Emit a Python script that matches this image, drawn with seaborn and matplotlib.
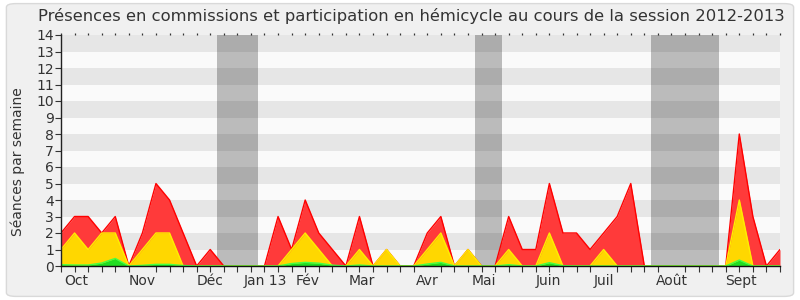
import numpy as np
import pandas as pd
import matplotlib
matplotlib.use("Agg")
import matplotlib.pyplot as plt
from matplotlib.patches import FancyBboxPatch
import seaborn as sns

# ---- data (weekly, session 2012-2013) ----
weeks = list(range(54))
hemicycle = [2, 3, 3, 2, 3, 0, 2, 5, 4, 2, 0, 1, 0, 0, 0, 0, 3, 1, 4, 2,
             1, 0, 3, 0, 1, 0, 0, 2, 3, 0, 1, 0, 0, 3, 1, 1, 5, 2, 2, 1,
             2, 3, 5, 0, 0, 0, 0, 0, 0, 0, 8, 3, 0, 1]
commission = [1, 2, 1, 2, 2, 0, 1, 2, 2, 0, 0, 0, 0, 0, 0, 0, 0, 1, 2, 1,
              0, 0, 1, 0, 1, 0, 0, 1, 2, 0, 1, 0, 0, 1, 0, 0, 2, 0, 0, 0,
              1, 0, 0, 0, 0, 0, 0, 0, 0, 0, 4, 0, 0, 0]
interventions = [0.08, 0.06, 0.06, 0.18, 0.46, 0, 0.04, 0.1, 0.1, 0.03, 0, 0, 0, 0, 0, 0, 0, 0.15, 0.22, 0.17,
                 0.05, 0, 0.06, 0, 0, 0, 0, 0.12, 0.22, 0, 0, 0, 0, 0.08, 0, 0, 0.2, 0.02, 0, 0,
                 0, 0, 0, 0, 0, 0, 0, 0, 0, 0, 0.36, 0, 0, 0]
month_labels = ["Oct", "Nov", "Déc", "Jan 13", "Fév", "Mar", "Avr", "Mai", "Juin", "Juil", "Août", "Sept"]
month_pos = [1.16, 6.0, 10.97, 15.1, 18.2, 22.2, 27.0, 31.2, 35.9, 40.0, 45.0, 50.1]
vacances = [(11.5, 14.5), (30.5, 32.5), (43.5, 48.5)]

df = pd.DataFrame({"semaine": weeks, "hemicycle": hemicycle,
                   "commission": commission, "interventions": interventions})

sns.set_theme(style="white")
plt.rcParams["font.family"] = ["DejaVu Sans"]

fig = plt.figure(figsize=(8, 3), dpi=100, facecolor="white")
bg = FancyBboxPatch((0.008, 0.012), 0.984, 0.976, boxstyle="round,pad=0,rounding_size=0.012",
                    transform=fig.transFigure, facecolor="#f0f0f0", edgecolor="#d9d9d9",
                    linewidth=1, zorder=-10)
fig.patches.append(bg)

ax = fig.add_axes([61 / 800, 34 / 300, 719 / 800, 231 / 300])
ax.set_facecolor("#fafafa")
for k in range(1, 14, 2):
    ax.axhspan(k, k + 1, color="#e6e6e6", lw=0, zorder=0)
for a, b in vacances:
    ax.axvspan(a, b, color="black", alpha=0.25, lw=0, zorder=1)

series = [("hemicycle", "#ff3a3a", "#ff0000"),
          ("commission", "#ffd700", "#ffee00"),
          ("interventions", "#22dd22", "#44ff44")]
for i, (col, fc, ec) in enumerate(series):
    ax.fill_between(df["semaine"], 0, df[col], color=fc, lw=0, zorder=2 + i)
    sns.lineplot(data=df, x="semaine", y=col, color=ec, lw=1.0, ax=ax, zorder=2.5 + i)

ax.set_xlim(0, 53)
ax.set_ylim(0, 14)
ax.set_yticks(range(0, 15))
ax.set_xticks(month_pos)
ax.set_xticklabels(month_labels)
ax.set_xticks(weeks, minor=True)
ax.tick_params(axis="x", which="major", length=0, pad=6, labelsize=10, colors="#333333")
ax.tick_params(axis="x", which="minor", bottom=True, top=False, length=4, width=0.8,
               color="#333333", direction="out")
ax.tick_params(axis="y", left=True, length=4, width=0.8, pad=1, labelsize=10,
               colors="#333333")
for lab in ax.get_xticklabels() + ax.get_yticklabels():
    lab.set_color("#333333")

top = ax.secondary_xaxis("top")
top.set_xticks(weeks)
top.set_xticklabels([])
top.tick_params(axis="x", length=1.8, width=0.9, color="#333333", direction="out")
top.spines["top"].set_visible(False)

ax.set_xlabel("")
ax.set_ylabel("")
for s in ["top", "right"]:
    ax.spines[s].set_visible(False)
ax.spines["left"].set_color("#222222")
ax.spines["bottom"].set_color("#111111")
ax.spines["left"].set_linewidth(1)
ax.spines["bottom"].set_linewidth(1)
ax.spines["bottom"].set_zorder(10)
ax.spines["left"].set_zorder(10)
ax.grid(False)

fig.text(0.514, 0.948, "Présences en commissions et participation en hémicycle au cours de la session 2012-2013",
         ha="center", va="center", fontsize=11.8, color="#333333")
fig.text(18 / 800, 1 - 162 / 300, "Séances par semaine", rotation=90, ha="center", va="center",
         fontsize=10, color="#333333")

fig.savefig("out.png", dpi=100, facecolor=fig.get_facecolor())
